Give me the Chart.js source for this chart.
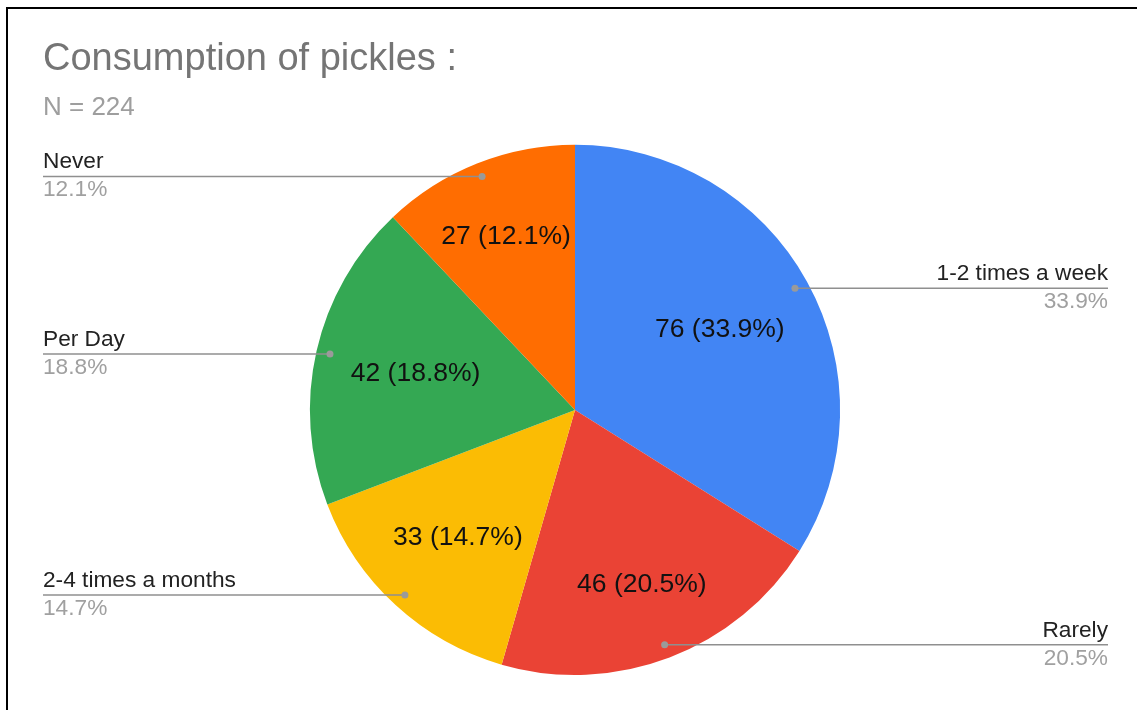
<!DOCTYPE html>
<html>
<head>
<meta charset="utf-8">
<script src="https://cdn.jsdelivr.net/npm/chart.js@4.4.1/dist/chart.umd.min.js"></script>
<style>
  html, body { margin: 0; padding: 0; background: #fff; overflow: hidden; }
  .frame { position: absolute; left: 6px; top: 7px; width: 1300px; height: 900px;
           border-left: 2px solid #000; border-top: 2px solid #000; }
  .wrap { position: absolute; left: 0; top: 0; width: 1137px; height: 710px; }
</style>
</head>
<body>
<div class="frame"></div>
<div class="wrap"><canvas id="pie"></canvas></div>
<script>
// clockwise from 12 o'clock
const categories = ['1-2 times a week', 'Rarely', '2-4 times a months', 'Per Day', 'Never'];
const counts = [76, 46, 33, 42, 27];
const sliceColors = ['#4285F4', '#EA4335', '#FBBC04', '#34A853', '#FF6D01'];

const total = counts.reduce((a, b) => a + b, 0);
const pct = v => (v / total * 100).toFixed(1) + '%';
const FONT = '"Liberation Sans", Arial, sans-serif';

// distance from the pie centre to the farthest corner of a w x h box centred at (px, py)
function farCorner(px, py, w, h) {
  return Math.hypot(Math.abs(px) + w / 2, Math.abs(py) + h / 2);
}

const sliceLabels = {
  id: 'sliceLabels',
  afterDatasetsDraw(chart) {
    const { ctx, chartArea } = chart;
    const arcs = chart.getDatasetMeta(0).data;
    ctx.save();
    arcs.forEach((arc, i) => {
      const { x, y, startAngle, endAngle, outerRadius } =
        arc.getProps(['x', 'y', 'startAngle', 'endAngle', 'outerRadius'], true);
      const mid = (startAngle + endAngle) / 2;

      // value label inside the slice: slide out until its outer corner reaches the limit
      const text = counts[i] + ' (' + pct(counts[i]) + ')';
      ctx.font = '26.5px ' + FONT;
      const w = ctx.measureText(text).width;
      const limit = outerRadius * 0.865;
      let r = 0;
      while (r < outerRadius && farCorner(Math.cos(mid) * r, Math.sin(mid) * r, w, 26) < limit) r += 0.5;
      ctx.fillStyle = '#111';
      ctx.textAlign = 'center';
      ctx.textBaseline = 'middle';
      ctx.fillText(text, x + Math.cos(mid) * r, y + Math.sin(mid) * r);

      // leader line out to the side column
      const dx = x + Math.cos(mid) * outerRadius * 0.948;
      const dy = y + Math.sin(mid) * outerRadius * 0.948;
      const left = dx < x;
      const edge = left ? chartArea.left : chartArea.right + 1;
      ctx.strokeStyle = '#8f8f8f';
      ctx.lineWidth = 1.5;
      ctx.beginPath();
      ctx.moveTo(edge, dy);
      ctx.lineTo(dx, dy);
      ctx.stroke();
      ctx.fillStyle = '#9a9a9a';
      ctx.beginPath();
      ctx.arc(dx, dy, 3.5, 0, Math.PI * 2);
      ctx.fill();

      ctx.font = '22.7px ' + FONT;
      ctx.textAlign = left ? 'left' : 'right';
      ctx.textBaseline = 'alphabetic';
      ctx.fillStyle = '#222';
      ctx.fillText(categories[i], edge, dy - 8);
      ctx.fillStyle = '#a0a0a0';
      ctx.fillText(pct(counts[i]), edge, dy + 20);
    });
    ctx.restore();
  }
};

new Chart(document.getElementById('pie'), {
  type: 'pie',
  data: {
    labels: categories,
    datasets: [{
      data: counts,
      backgroundColor: sliceColors,
      borderWidth: 0
    }]
  },
  options: {
    responsive: true,
    maintainAspectRatio: false,
    animation: false,
    layout: { padding: { left: 43, right: 30, top: 10, bottom: 35 } },
    plugins: {
      legend: { display: false },
      tooltip: { enabled: false },
      title: {
        display: true,
        text: 'Consumption of pickles :',
        align: 'start',
        color: '#757575',
        font: { family: FONT, size: 38, weight: 'normal' },
        padding: { top: 27, bottom: 0 }
      },
      subtitle: {
        display: true,
        text: 'N = ' + total,
        align: 'start',
        color: '#9e9e9e',
        font: { family: FONT, size: 26, weight: 'normal' },
        padding: { top: 10, bottom: 21 }
      }
    }
  },
  plugins: [sliceLabels]
});
</script>
</body>
</html>
